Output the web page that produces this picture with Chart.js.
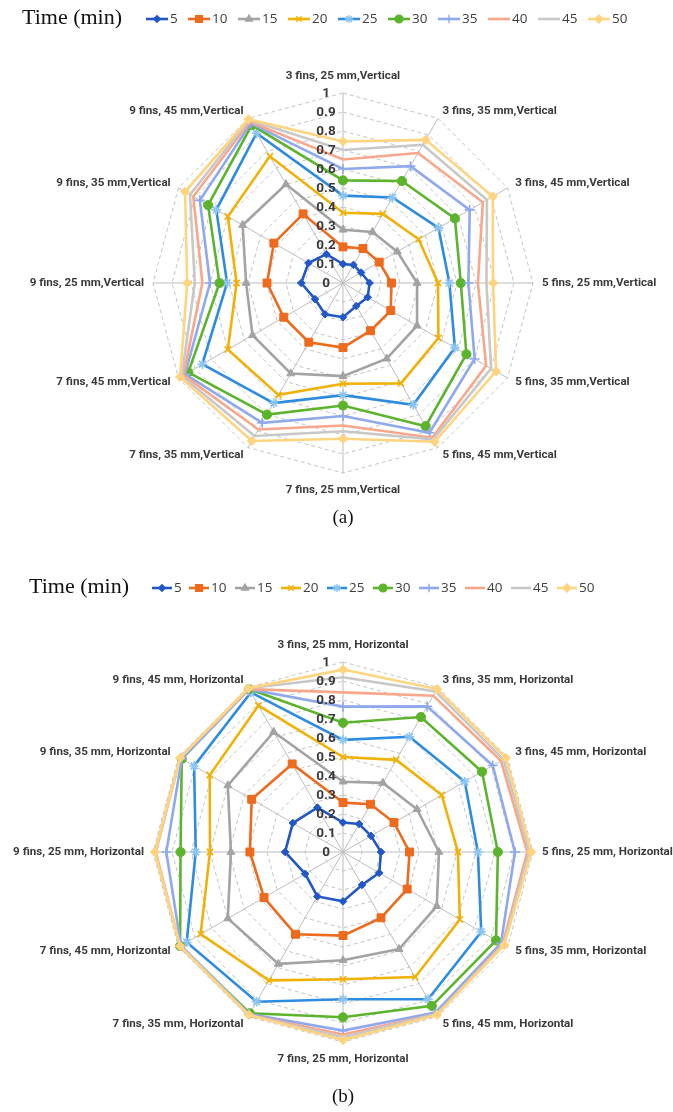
<!DOCTYPE html>
<html>
<head>
<meta charset="utf-8">
<script src="https://cdn.jsdelivr.net/npm/chart.js@4.4.1/dist/chart.umd.min.js"></script>
<style>
  html, body { margin: 0; padding: 0; background: #ffffff; }
  #wrap { position: relative; width: 673px; height: 1112px; }
  canvas { position: absolute; left: 0; }
</style>
</head>
<body>
<div id="wrap">
  <canvas id="chartV" width="673" height="556" style="top:0"></canvas>
  <canvas id="chartH" width="673" height="556" style="top:556px"></canvas>
</div>
<script>
// Series names (time in minutes)
const times = ['5', '10', '15', '20', '25', '30', '35', '40', '45', '50'];

// Spoke labels, clockwise from the top
const labelsVertical = [
  '3 fins, 25 mm,Vertical', '3 fins, 35 mm,Vertical', '3 fins, 45 mm,Vertical',
  '5 fins, 25 mm,Vertical', '5 fins, 35 mm,Vertical', '5 fins, 45 mm,Vertical',
  '7 fins, 25 mm,Vertical', '7 fins, 35 mm,Vertical', '7 fins, 45 mm,Vertical',
  '9 fins, 25 mm,Vertical', '9 fins, 35 mm,Vertical', '9 fins, 45 mm,Vertical'
];
const labelsHorizontal = [
  '3 fins, 25 mm, Horizontal', '3 fins, 35 mm, Horizontal', '3 fins, 45 mm, Horizontal',
  '5 fins, 25 mm, Horizontal', '5 fins, 35 mm, Horizontal', '5 fins, 45 mm, Horizontal',
  '7 fins, 25 mm, Horizontal', '7 fins, 35 mm, Horizontal', '7 fins, 45 mm, Horizontal',
  '9 fins, 25 mm, Horizontal', '9 fins, 35 mm, Horizontal', '9 fins, 45 mm, Horizontal'
];

// Radial axis tick labels
const tickValues = [0, 0.1, 0.2, 0.3, 0.4, 0.5, 0.6, 0.7, 0.8, 0.9, 1];
const tickLabels = ['0', '0.1', '0.2', '0.3', '0.4', '0.5', '0.6', '0.7', '0.8', '0.9', '1'];

// Vertical orientation, one array per time
const vertical5  = [0.10, 0.11, 0.11, 0.14, 0.15, 0.14, 0.18, 0.19, 0.17, 0.22, 0.21, 0.175];
const vertical10 = [0.19, 0.21, 0.22, 0.255, 0.29, 0.29, 0.34, 0.36, 0.36, 0.40, 0.42, 0.42];
const vertical15 = [0.28, 0.31, 0.33, 0.39, 0.45, 0.46, 0.49, 0.55, 0.55, 0.51, 0.61, 0.60];
const vertical20 = [0.37, 0.42, 0.46, 0.50, 0.58, 0.61, 0.53, 0.68, 0.70, 0.56, 0.70, 0.77];
const vertical25 = [0.46, 0.52, 0.58, 0.56, 0.68, 0.74, 0.59, 0.73, 0.855, 0.61, 0.77, 0.91];
const vertical30 = [0.54, 0.62, 0.68, 0.62, 0.75, 0.87, 0.645, 0.80, 0.94, 0.65, 0.82, 0.96];
const vertical35 = [0.60, 0.71, 0.77, 0.66, 0.80, 0.91, 0.70, 0.85, 0.96, 0.70, 0.87, 0.97];
const vertical40 = [0.65, 0.79, 0.85, 0.71, 0.87, 0.94, 0.75, 0.89, 0.97, 0.74, 0.91, 0.98];
const vertical45 = [0.70, 0.84, 0.875, 0.755, 0.90, 0.95, 0.78, 0.93, 0.98, 0.78, 0.93, 0.99];
const vertical50 = [0.745, 0.87, 0.91, 0.79, 0.93, 0.965, 0.82, 0.96, 0.99, 0.82, 0.96, 0.995];

// Horizontal orientation, one array per time
const horizontal5  = [0.155, 0.17, 0.17, 0.20, 0.22, 0.20, 0.26, 0.27, 0.23, 0.305, 0.305, 0.27];
const horizontal10 = [0.26, 0.29, 0.31, 0.35, 0.39, 0.40, 0.44, 0.50, 0.48, 0.49, 0.555, 0.535];
const horizontal15 = [0.37, 0.42, 0.45, 0.505, 0.57, 0.59, 0.57, 0.68, 0.70, 0.59, 0.70, 0.73];
const horizontal20 = [0.50, 0.56, 0.60, 0.605, 0.71, 0.76, 0.67, 0.78, 0.865, 0.70, 0.81, 0.89];
const horizontal25 = [0.59, 0.70, 0.74, 0.71, 0.84, 0.895, 0.775, 0.91, 0.95, 0.775, 0.905, 0.97];
const horizontal30 = [0.68, 0.82, 0.845, 0.815, 0.93, 0.935, 0.87, 0.98, 0.99, 0.855, 0.98, 0.99];
const horizontal35 = [0.765, 0.885, 0.91, 0.905, 0.96, 0.975, 0.94, 0.985, 0.985, 0.93, 0.98, 0.99];
const horizontal40 = [0.84, 0.95, 0.96, 0.97, 0.97, 0.985, 0.96, 0.99, 0.99, 0.985, 0.99, 0.99];
const horizontal45 = [0.92, 0.975, 0.975, 0.98, 0.975, 0.985, 0.975, 0.99, 0.99, 0.99, 0.99, 0.995];
const horizontal50 = [0.96, 0.99, 0.99, 0.99, 0.98, 0.99, 0.99, 0.99, 0.99, 0.99, 0.99, 0.995];

const verticalSeries = [vertical5, vertical10, vertical15, vertical20, vertical25,
                        vertical30, vertical35, vertical40, vertical45, vertical50];
const horizontalSeries = [horizontal5, horizontal10, horizontal15, horizontal20, horizontal25,
                          horizontal30, horizontal35, horizontal40, horizontal45, horizontal50];

// Line colour and marker for each time
const seriesStyle = [
  { color: '#2157c7', marker: 'rectRot',  r: 3.8, fill: '#2157c7' },
  { color: '#ee6a1c', marker: 'rect',     r: 5.6, fill: '#ee6a1c' },
  { color: '#a3a3a3', marker: 'triangle', r: 4.6, fill: '#a3a3a3' },
  { color: '#f1b107', marker: 'crossRot', r: 4.5, fill: '#f1b107' },
  { color: '#2e8ce0', marker: 'star',     r: 4.8, fill: '#8cc4f2', border: '#8cc4f2' },
  { color: '#5cb42d', marker: 'circle',   r: 4.6, fill: '#5cb42d' },
  { color: '#8ea9ec', marker: 'cross',    r: 5.0, fill: '#8ea9ec' },
  { color: '#f8a78a', marker: 'circle',   r: 0,   fill: '#f8a78a' },
  { color: '#c8c8c8', marker: 'circle',   r: 0,   fill: '#c8c8c8' },
  { color: '#ffd47f', marker: 'rectRot',  r: 4.6, fill: '#ffd47f' }
];

const RADIUS = 190;
const CENTER_X = 343;

function buildDatasets(series) {
  return series.map((values, i) => {
    const st = seriesStyle[i];
    return {
      label: times[i],
      data: values,
      borderColor: st.color,
      backgroundColor: st.fill,
      borderWidth: 2.6,
      fill: false,
      tension: 0,
      pointStyle: st.marker,
      pointRadius: st.r,
      pointHoverRadius: st.r,
      pointBackgroundColor: st.fill,
      pointBorderColor: st.border || st.color,
      pointBorderWidth: (st.marker === 'crossRot' || st.marker === 'cross' || st.marker === 'star') ? 1.6 : 1,
      order: series.length - i
    };
  });
}

// Draws tick labels, spoke labels, the legend row and the panel tag
const decorPlugin = {
  id: 'decor',
  afterDraw(chart, args, o) {
    const ctx = chart.ctx;
    const s = chart.scales.r;
    ctx.save();

    // radial tick labels, left of the vertical spoke
    ctx.font = '700 13.5px Roboto';
    ctx.fillStyle = '#3a3a3a';
    ctx.textAlign = 'center';
    ctx.textBaseline = 'middle';
    tickValues.forEach((v, i) => {
      ctx.fillText(tickLabels[i], s.xCenter - 17, s.yCenter - s.getDistanceFromCenterForValue(v) + 1);
    });

    // spoke labels
    ctx.font = '700 11.6px Roboto';
    ctx.fillStyle = '#3a3a3a';
    chart.data.labels.forEach((lab, i) => {
      const probe = s.getPointPosition(i, RADIUS);
      const dx = probe.x - s.xCenter;
      let pos, align;
      if (Math.abs(dx) < 1) {
        pos = s.getPointPosition(i, RADIUS + 17);
        align = 'center';
      } else {
        pos = s.getPointPosition(i, RADIUS + 9);
        align = dx > 0 ? 'left' : 'right';
      }
      ctx.textAlign = align;
      ctx.textBaseline = 'middle';
      ctx.fillText(lab, pos.x, pos.y);
    });

    // legend row
    ctx.font = '22px "Liberation Serif"';
    ctx.fillStyle = '#111111';
    ctx.textAlign = 'left';
    ctx.textBaseline = 'middle';
    ctx.fillText('Time (min)', o.titleX, o.legendY);

    ctx.font = '13.5px "Open Sans"';
    o.itemX.forEach((x0, i) => {
      const st = seriesStyle[i];
      const y = o.legendY + 1;
      ctx.strokeStyle = st.color;
      ctx.lineWidth = 2.6;
      ctx.beginPath();
      ctx.moveTo(x0, y);
      ctx.lineTo(x0 + o.lineLen, y);
      ctx.stroke();
      if (st.r > 0) {
        ctx.fillStyle = st.fill;
        ctx.strokeStyle = st.border || st.color;
        ctx.lineWidth = 1.4;
        Chart.helpers.drawPoint(ctx, {
          pointStyle: st.marker, radius: st.r * 0.85, rotation: 0, borderWidth: 1.2
        }, x0 + o.lineLen / 2, y);
      }
      ctx.fillStyle = '#404040';
      ctx.fillText(times[i], x0 + o.lineLen + 2, y);
    });

    // panel tag
    ctx.font = '19px "Liberation Serif"';
    ctx.fillStyle = '#111111';
    ctx.textAlign = 'center';
    ctx.fillText(o.tag, CENTER_X, o.tagY);

    ctx.restore();
  }
};

function makeChart(canvasId, labels, series, cfg) {
  return new Chart(document.getElementById(canvasId), {
    type: 'radar',
    data: { labels: labels, datasets: buildDatasets(series) },
    options: {
      responsive: false,
      animation: false,
      events: [],
      layout: { padding: 0 },
      elements: { line: { borderJoinStyle: 'miter' } },
      plugins: {
        legend: { display: false },
        tooltip: { enabled: false },
        decor: cfg
      },
      scales: {
        r: {
          min: 0,
          max: 1,
          beginAtZero: true,
          ticks: { display: false, stepSize: 0.1 },
          pointLabels: { display: false },
          grid: { color: '#c4c4c4', lineWidth: 1 },
          border: { dash: [4, 3] },
          angleLines: { color: '#bdbdbd', lineWidth: 1 },
          afterFit(scale) {
            scale.xCenter = CENTER_X;
            scale.yCenter = cfg.centerY;
            scale.drawingArea = RADIUS;
          }
        }
      }
    },
    plugins: [decorPlugin]
  });
}

makeChart('chartV', labelsVertical, verticalSeries, {
  centerY: 283, legendY: 18, titleX: 22, lineLen: 22,
  itemX: [146, 188, 238, 288, 338, 388, 438, 488, 538, 588],
  tag: '(a)', tagY: 518
});

makeChart('chartH', labelsHorizontal, horizontalSeries, {
  centerY: 296, legendY: 31, titleX: 29, lineLen: 20,
  itemX: [152, 189, 235, 281, 327, 373, 419, 465, 511, 557],
  tag: '(b)', tagY: 541
});
</script>
</body>
</html>
